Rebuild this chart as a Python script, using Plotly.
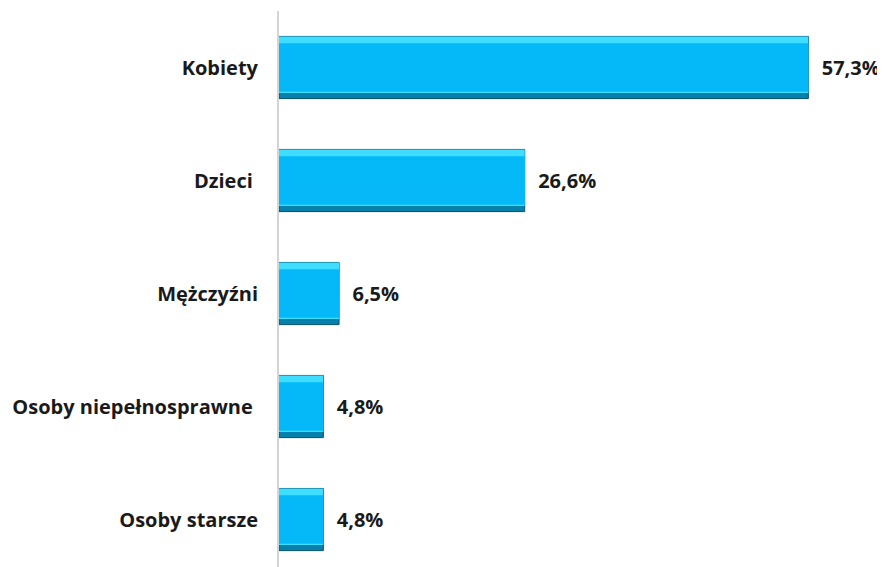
import plotly.graph_objs as go

categories = ["Kobiety", "Dzieci ", "Mężczyźni", "Osoby niepełnosprawne ", "Osoby starsze"]
values = [57.3, 26.6, 6.5, 4.8, 4.8]
labels = ["{:.1f}%".format(v).replace(".", ",") for v in values]

traces = []
# bevel-like look: dark base, light top edge, main fill on top
traces.append(go.Bar(y=categories, x=values, orientation="h", width=0.55,
                     marker=dict(color="#0880AC", line=dict(color="#04506C", width=1)),
                     hoverinfo="skip", showlegend=False))
traces.append(go.Bar(y=categories, x=values, orientation="h", width=0.5, offset=-0.275,
                     marker=dict(color="#3FDDFF", line=dict(width=0)),
                     hoverinfo="skip", showlegend=False))
traces.append(go.Bar(y=categories, x=values, orientation="h", width=0.43,
                     marker=dict(color="#05B9F8", line=dict(width=0)),
                     text=["  " + t for t in labels], textposition="outside",
                     textfont=dict(family="Open Sans", size=20, color="#1a1a1a", weight="bold"),
                     cliponaxis=False, showlegend=False))

# the page puts the plot 8px in from the top-left corner, so margins are offset by that
layout = go.Layout(
    barmode="overlay",
    width=877, height=559,
    margin=dict(l=271, r=0, t=3, b=0, autoexpand=False),
    paper_bgcolor="white", plot_bgcolor="white",
    font=dict(family="Open Sans", size=20, color="#1a1a1a"),
    xaxis=dict(range=[0, 65.6], showgrid=False, showticklabels=False, zeroline=False,
               showline=False, ticks="", automargin=False),
    yaxis=dict(range=[4.42, -0.5], showgrid=False, showline=True, linecolor="#D4D4D4",
               linewidth=2, ticks="", ticklabelstandoff=15, automargin=False,
               tickfont=dict(family="Open Sans", size=20, color="#1a1a1a", weight="bold")),
)
fig = go.Figure(data=traces, layout=layout)
fig.write_html("out.html")
